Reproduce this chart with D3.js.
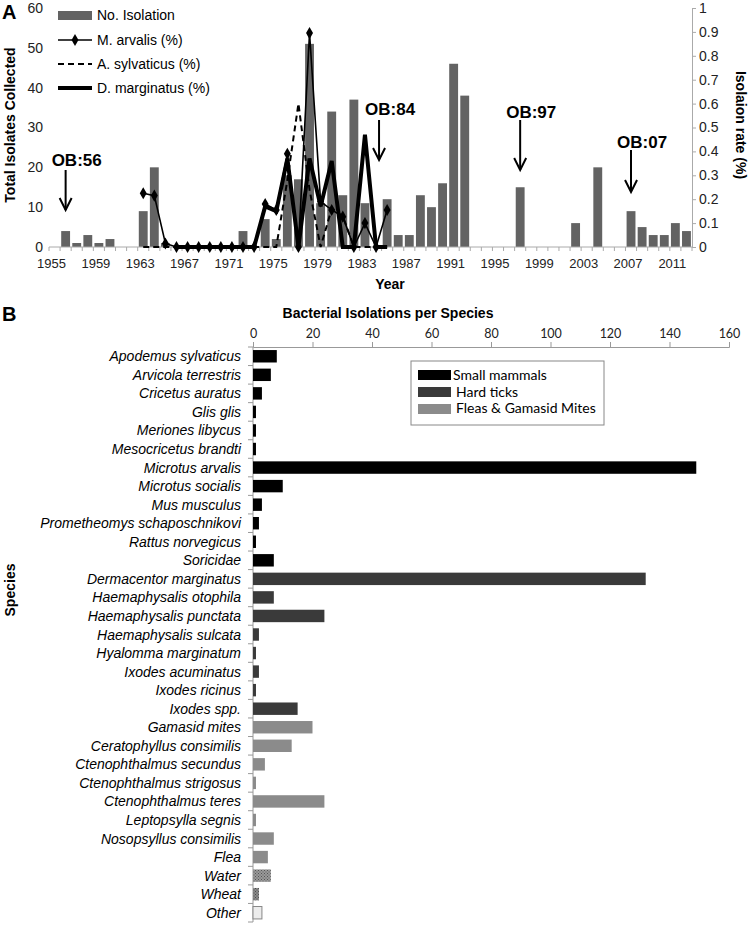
<!DOCTYPE html>
<html>
<head>
<meta charset="utf-8">
<script src="https://cdn.jsdelivr.net/npm/d3@7"></script>
<style>
body { margin: 0; background: #fff; }
svg { display: block; }
text { font-family: "Liberation Sans", Arial, sans-serif; }
</style>
</head>
<body>
<script>
// ---- panel A data ----
var years = d3.range(1955, 2013);
var isolations = [0, 4, 1, 3, 1, 2, 0, 0, 9, 20,
                  1, 0, 0, 0, 0, 0, 0, 4, 0, 7,
                  2, 18, 17, 51, 11, 34, 13, 37, 11, 0,
                  12, 3, 3, 13, 10, 16, 46, 38, 0, 0,
                  0, 0, 15, 0, 0, 0, 0, 6, 0, 20,
                  0, 0, 9, 5, 3, 3, 6, 4];
var yearLabels = [1955, 1959, 1963, 1967, 1971, 1975, 1979, 1983, 1987, 1991, 1995, 1999, 2003, 2007, 2011];
var countTicks = [0, 10, 20, 30, 40, 50, 60];
var rateTicks = [0, 0.1, 0.2, 0.3, 0.4, 0.5, 0.6, 0.7, 0.8, 0.9, 1];

// isolation rate, 1963-1985 (null = no value)
var rateYears = d3.range(1963, 1986);
var mArvalis    = [0.225, 0.215, 0.015, 0, 0, 0, 0, 0, 0, 0, 0, 0.18, 0.155, 0.39, 0, 0.895, 0.19, 0.155, 0.127, 0, 0.1, 0, 0.155];
var aSylvaticus = [0, 0, 0, 0, 0, 0, 0, 0, 0, 0, 0, 0, 0, 0.28, 0.6, 0.24, 0, 0.16, 0.13, 0, 0, 0, 0];
var dMarginatus = [null, null, null, 0, 0, 0, 0, 0, 0, 0, 0, 0.17, 0.15, 0.37, 0, 0.37, 0.17, 0.36, 0, 0, 0.47, 0, 0];

var outbreaks = ["OB:56", "OB:84", "OB:97", "OB:07"];
var outbreakYears = [1956, 1984, 1997, 2007];

// ---- panel B data ----
var species = ["Apodemus sylvaticus", "Arvicola terrestris", "Cricetus auratus", "Glis glis",
  "Meriones libycus", "Mesocricetus brandti", "Microtus arvalis", "Microtus socialis",
  "Mus musculus", "Prometheomys schaposchnikovi", "Rattus norvegicus", "Soricidae",
  "Dermacentor marginatus", "Haemaphysalis otophila", "Haemaphysalis punctata",
  "Haemaphysalis sulcata", "Hyalomma marginatum", "Ixodes acuminatus", "Ixodes ricinus",
  "Ixodes spp.", "Gamasid mites", "Ceratophyllus consimilis", "Ctenophthalmus secundus",
  "Ctenophthalmus strigosus", "Ctenophthalmus teres", "Leptopsylla segnis",
  "Nosopsyllus consimilis", "Flea", "Water", "Wheat", "Other"];
var speciesCounts = [8, 6, 3, 1, 1, 1, 149, 10, 3, 2, 1, 7,
  132, 7, 24, 2, 1, 2, 1, 15,
  20, 13, 4, 1, 24, 1, 7, 5, 6, 2, 3];
var speciesGroup = ["m", "m", "m", "m", "m", "m", "m", "m", "m", "m", "m", "m",
  "t", "t", "t", "t", "t", "t", "t", "t",
  "f", "f", "f", "f", "f", "f", "f", "f", "water", "wheat", "other"];
var groupNames = ["Small mammals", "Hard ticks", "Fleas & Gamasid Mites"];
var countAxisTicks = [0, 20, 40, 60, 80, 100, 120, 140, 160];

var svg = d3.select("body").append("svg")
  .attr("width", 750)
  .attr("height", 925);

var defs = svg.append("defs");
function hatch(id, bg, fg) {
  var p = defs.append("pattern").attr("id", id)
    .attr("width", 3).attr("height", 3).attr("patternUnits", "userSpaceOnUse");
  p.append("rect").attr("width", 3).attr("height", 3).attr("fill", bg);
  p.append("rect").attr("width", 1).attr("height", 1).attr("fill", fg);
  p.append("rect").attr("x", 1.5).attr("y", 1.5).attr("width", 1).attr("height", 1).attr("fill", fg);
}
hatch("waterHatch", "#9a9a9a", "#555");
hatch("wheatHatch", "#8a8a8a", "#4a4a4a");

var groupFill = { m: "#000", t: "#3a3a3a", f: "#8b8b8b",
  water: "url(#waterHatch)", wheat: "url(#wheatHatch)", other: "#ececec" };

// ================= Panel A =================
var xA = d3.scaleBand().domain(years).range([49, 692]).paddingInner(0.2).paddingOuter(0.1);
var yL = d3.scaleLinear().domain([0, 60]).range([247, 8]);
var yR = d3.scaleLinear().domain([0, 1]).range([247, 8]);
var cx = function(yr) { return xA(yr) + xA.bandwidth() / 2; };

svg.append("text").attr("x", 2).attr("y", 19)
  .style("font-size", "20px").style("font-weight", "bold").text("A");

// bars
svg.append("g").selectAll("rect")
  .data(years.map(function(y, i) { return { year: y, v: isolations[i] }; }))
  .enter().append("rect")
  .attr("x", function(d) { return xA(d.year); })
  .attr("width", xA.bandwidth())
  .attr("y", function(d) { return yL(d.v); })
  .attr("height", function(d) { return yL(0) - yL(d.v); })
  .attr("fill", "#636363");

// x axis (category ticks between years)
var gx = svg.append("g");
gx.append("line").attr("x1", xA.range()[0]).attr("x2", xA.range()[1])
  .attr("y1", yL(0)).attr("y2", yL(0)).attr("stroke", "#aaa");
gx.selectAll("line.tk").data(d3.range(years.length + 1)).enter().append("line")
  .attr("class", "tk")
  .attr("x1", function(i) { return xA.range()[0] + i * xA.step(); })
  .attr("x2", function(i) { return xA.range()[0] + i * xA.step(); })
  .attr("y1", yL(0)).attr("y2", yL(0) + 4).attr("stroke", "#aaa");
gx.selectAll("text").data(yearLabels).enter().append("text")
  .attr("x", function(d) { return cx(d) - 3; })
  .attr("y", 268)
  .attr("text-anchor", "middle")
  .style("font-size", "13px").attr("fill", "#222")
  .text(function(d) { return d; });

// left axis (no line)
var gl = svg.append("g").attr("transform", "translate(49,0)")
  .call(d3.axisLeft(yL).tickValues(countTicks).tickSize(0).tickPadding(6));
gl.select(".domain").remove();
gl.selectAll("text").style("font-size", "14px").style("font-family", "Liberation Sans, Arial").attr("fill", "#222");

// right axis
var gr = svg.append("g").attr("transform", "translate(692,0)")
  .call(d3.axisRight(yR).tickValues(rateTicks).tickSize(4).tickPadding(3)
    .tickFormat(function(d) { return +d.toFixed(1); }));
gr.select(".domain").attr("stroke", "#aaa");
gr.selectAll("line").attr("stroke", "#aaa");
gr.selectAll("text").style("font-size", "14px").style("font-family", "Liberation Sans, Arial").attr("fill", "#222");

// axis titles
svg.append("text").attr("transform", "translate(15,125) rotate(-90)")
  .attr("text-anchor", "middle").style("font-size", "14px").style("font-weight", "bold")
  .text("Total Isolates Collected");
svg.append("text").attr("transform", "translate(736,125) rotate(90)")
  .attr("text-anchor", "middle").style("font-size", "14px").style("font-weight", "bold")
  .text("Isolaion rate (%)");
svg.append("text").attr("x", 390).attr("y", 289)
  .attr("text-anchor", "middle").style("font-size", "14px").style("font-weight", "bold")
  .text("Year");

// rate lines
var line = d3.line()
  .defined(function(d) { return d.v !== null; })
  .x(function(d) { return cx(d.year); })
  .y(function(d) { return yR(d.v); });
function series(vals) { return rateYears.map(function(y, i) { return { year: y, v: vals[i] }; }); }

svg.append("path").datum(series(dMarginatus)).attr("d", line)
  .attr("fill", "none").attr("stroke", "#000").attr("stroke-width", 4).attr("stroke-linejoin", "miter");
svg.append("path").datum(series(aSylvaticus)).attr("d", line)
  .attr("fill", "none").attr("stroke", "#000").attr("stroke-width", 2).attr("stroke-dasharray", "6,4");
svg.append("path").datum(series(mArvalis)).attr("d", line)
  .attr("fill", "none").attr("stroke", "#000").attr("stroke-width", 1.6);
svg.append("g").selectAll("path").data(series(mArvalis)).enter().append("path")
  .attr("transform", function(d) { return "translate(" + cx(d.year) + "," + yR(d.v) + ")"; })
  .attr("d", d3.symbol().type(d3.symbolDiamond).size(42))
  .attr("fill", "#000");

// outbreak arrows
var arrowTop = [170, 120, 120, 150];
var arrowTip = [210, 160, 170, 192];
var labelBase = [166, 115, 118, 148];
outbreaks.forEach(function(lab, i) {
  var x = cx(outbreakYears[i]) + (i === 1 ? 3 : 0);
  svg.append("text").attr("x", x - 14).attr("y", labelBase[i])
    .style("font-size", "17px").style("font-weight", "bold").text(lab);
  svg.append("line").attr("x1", x).attr("x2", x)
    .attr("y1", arrowTop[i]).attr("y2", arrowTip[i])
    .attr("stroke", "#000").attr("stroke-width", 2);
  svg.append("path")
    .attr("d", "M" + (x - 6) + "," + (arrowTip[i] - 12) + "L" + x + "," + arrowTip[i] + "L" + (x + 6) + "," + (arrowTip[i] - 12))
    .attr("fill", "none").attr("stroke", "#000").attr("stroke-width", 2);
});

// legend A
var legA = svg.append("g");
legA.append("rect").attr("x", 58).attr("y", 11).attr("width", 34).attr("height", 9).attr("fill", "#636363");
legA.append("line").attr("x1", 58).attr("x2", 92).attr("y1", 40).attr("y2", 40).attr("stroke", "#000").attr("stroke-width", 1.6);
legA.append("path").attr("transform", "translate(75,40)").attr("d", d3.symbol().type(d3.symbolDiamond).size(42));
legA.append("line").attr("x1", 58).attr("x2", 92).attr("y1", 64).attr("y2", 64).attr("stroke", "#000").attr("stroke-width", 2).attr("stroke-dasharray", "6,4");
legA.append("line").attr("x1", 58).attr("x2", 92).attr("y1", 88).attr("y2", 88).attr("stroke", "#000").attr("stroke-width", 4);
["No. Isolation", "M. arvalis (%)", "A. sylvaticus (%)", "D. marginatus (%)"].forEach(function(t, i) {
  legA.append("text").attr("x", 97).attr("y", [20, 45, 69, 93][i])
    .style("font-size", "14px").text(t);
});

// ================= Panel B =================
var xB = d3.scaleLinear().domain([0, 160]).range([253, 729]);
var yB = d3.scaleBand().domain(species).range([347, 922]).paddingInner(0.33).paddingOuter(0.165);

svg.append("text").attr("x", 2).attr("y", 321)
  .style("font-size", "20px").style("font-weight", "bold").text("B");

svg.append("text").attr("x", 388).attr("y", 318)
  .attr("text-anchor", "middle").style("font-size", "14px").style("font-weight", "bold")
  .text("Bacterial Isolations per Species");

var gt = svg.append("g").attr("transform", "translate(0,347)")
  .call(d3.axisTop(xB).tickValues(countAxisTicks).tickSize(5).tickPadding(4));
gt.select(".domain").attr("stroke", "#999");
gt.selectAll("line").attr("stroke", "#999");
gt.selectAll("text").style("font-family", "Lato, sans-serif").style("font-size", "12.5px").attr("fill", "#222");

// category axis
var gc = svg.append("g");
gc.append("line").attr("x1", xB(0)).attr("x2", xB(0))
  .attr("y1", yB.range()[0]).attr("y2", yB.range()[1]).attr("stroke", "#999");
gc.selectAll("line.tk").data(d3.range(species.length + 1)).enter().append("line")
  .attr("class", "tk")
  .attr("x1", xB(0) - 5).attr("x2", xB(0))
  .attr("y1", function(i) { return yB.range()[0] + i * yB.step(); })
  .attr("y2", function(i) { return yB.range()[0] + i * yB.step(); })
  .attr("stroke", "#999");
gc.selectAll("text").data(species).enter().append("text")
  .attr("x", 241)
  .attr("y", function(d) { return yB(d) + yB.bandwidth() / 2 + 5; })
  .attr("text-anchor", "end")
  .style("font-size", "14px").style("font-style", "italic")
  .text(function(d) { return d; });

svg.append("g").selectAll("rect")
  .data(species.map(function(s, i) { return { s: s, v: speciesCounts[i], g: speciesGroup[i] }; }))
  .enter().append("rect")
  .attr("x", xB(0))
  .attr("y", function(d) { return yB(d.s); })
  .attr("width", function(d) { return xB(d.v) - xB(0); })
  .attr("height", yB.bandwidth())
  .attr("fill", function(d) { return groupFill[d.g]; })
  .attr("stroke", function(d) { return d.g === "other" ? "#888" : "none"; });

svg.append("text").attr("transform", "translate(15,590) rotate(-90)")
  .attr("text-anchor", "middle").style("font-size", "14px").style("font-weight", "bold")
  .text("Species");

// legend B
var legB = svg.append("g");
legB.append("rect").attr("x", 411).attr("y", 361).attr("width", 193).attr("height", 64)
  .attr("fill", "#fff").attr("stroke", "#888");
["m", "t", "f"].forEach(function(g, i) {
  legB.append("rect").attr("x", 418).attr("y", [370, 387, 404][i])
    .attr("width", 33).attr("height", 10).attr("fill", groupFill[g]);
  legB.append("text").attr("x", i === 0 ? 453 : 456).attr("y", [380, 397, 413][i])
    .style("font-family", "Lato, sans-serif").style("font-size", "14px")
    .text(groupNames[i]);
});
</script>
</body>
</html>
